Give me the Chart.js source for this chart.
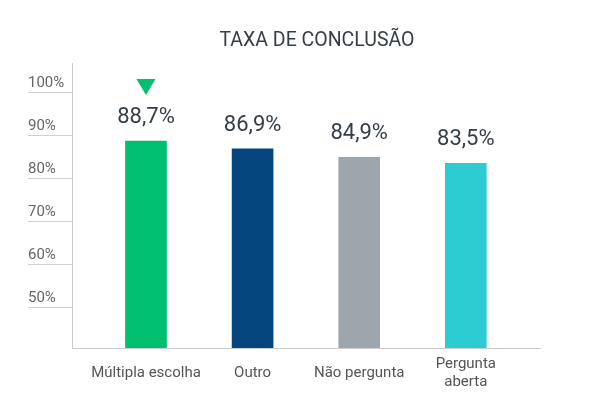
<!DOCTYPE html>
<html>
<head>
<meta charset="utf-8">
<script src="https://cdn.jsdelivr.net/npm/chart.js@4"></script>
<style>
  html, body { margin: 0; padding: 0; background: #fff; }
  #wrap { width: 599px; height: 400px; }
</style>
</head>
<body>
<div id="wrap"><canvas id="grafica"></canvas></div>
<script>
// datos de la grafica
const categorias = ['Múltipla escolha', 'Outro', 'Não pergunta', ['Pergunta', 'aberta']];
const valores = [88.7, 86.9, 84.9, 83.5];
const coloresBarras = ['#00BF6F', '#05467E', '#9DA5AD', '#2DCCD3'];
const ticksY = [50, 60, 70, 80, 90, 100];
const titulo = 'TAXA DE CONCLUSÃO';

const fuente = 'Roboto, "Noto Sans", sans-serif';

// titulo desplazado a la derecha como en el original
const tituloPlugin = {
    id: 'tituloDesplazado',
    afterDraw(chart) {
        const ctx = chart.ctx;
        ctx.save();
        ctx.font = '19.5px ' + fuente;
        ctx.fillStyle = '#333E48';
        ctx.textAlign = 'center';
        ctx.textBaseline = 'middle';
        ctx.fillText(titulo, 317, 41);
        ctx.restore();
    }
};

// etiquetas de valor y triangulo sobre la barra mayor
const etiquetasPlugin = {
    id: 'etiquetas',
    afterDatasetsDraw(chart) {
        const ctx = chart.ctx;
        const meta = chart.getDatasetMeta(0);
        const maximo = Math.max(...valores);
        ctx.save();
        ctx.font = '22px ' + fuente;
        ctx.fillStyle = '#333E48';
        ctx.textAlign = 'center';
        ctx.textBaseline = 'middle';
        meta.data.forEach((bar, i) => {
            ctx.fillText(valores[i].toFixed(1).replace('.', ',') + '%', bar.x, bar.y - 23.5);
            if (valores[i] === maximo) {
                ctx.beginPath();
                ctx.moveTo(bar.x - 9.5, bar.y - 62);
                ctx.lineTo(bar.x + 9.5, bar.y - 62);
                ctx.lineTo(bar.x, bar.y - 46);
                ctx.closePath();
                ctx.fillStyle = coloresBarras[i];
                ctx.fill();
                ctx.fillStyle = '#333E48';
            }
        });
        ctx.restore();
    }
};

new Chart(document.getElementById('grafica'), {
    type: 'bar',
    data: {
        datasets: [{
            data: valores.map((v, i) => ({ x: i, y: v })),
            backgroundColor: coloresBarras,
            borderWidth: 0,
            barThickness: 41
        }]
    },
    options: {
        responsive: true,
        maintainAspectRatio: false,
        animation: false,
        layout: { padding: { left: 28, right: 59, top: 63, bottom: 0 } },
        plugins: {
            legend: { display: false },
            tooltip: { enabled: false },
            title: { display: false }
        },
        scales: {
            x: {
                type: 'linear',
                offset: false,
                min: -0.694,
                max: 3.696,
                afterBuildTicks: (axis) => { axis.ticks = categorias.map((c, i) => ({ value: i })); },
                afterFit: (axis) => { axis.height = 52; },
                grid: { drawOnChartArea: false, drawTicks: false, offset: false },
                border: { display: true, color: '#CCCCCC', width: 1 },
                ticks: {
                    padding: 15.8,
                    crossAlign: 'center',
                    color: '#555555',
                    font: { family: fuente, size: 15, lineHeight: 1.25 },
                    callback: (value) => categorias[value]
                }
            },
            y: {
                min: 40.65,
                max: 106.8,
                afterBuildTicks: (axis) => { axis.ticks = ticksY.map(v => ({ value: v })); },
                afterFit: (axis) => { axis.width = 44; },
                grid: { drawOnChartArea: false, drawTicks: true, tickLength: 44, color: '#D0D0D0' },
                border: { display: true, color: '#CCCCCC', width: 1 },
                ticks: {
                    crossAlign: 'far',
                    labelOffset: -9,
                    color: '#666666',
                    font: { family: fuente, size: 15 },
                    callback: (value) => value + '%'
                }
            }
        }
    },
    plugins: [etiquetasPlugin, tituloPlugin]
});
</script>
</body>
</html>
